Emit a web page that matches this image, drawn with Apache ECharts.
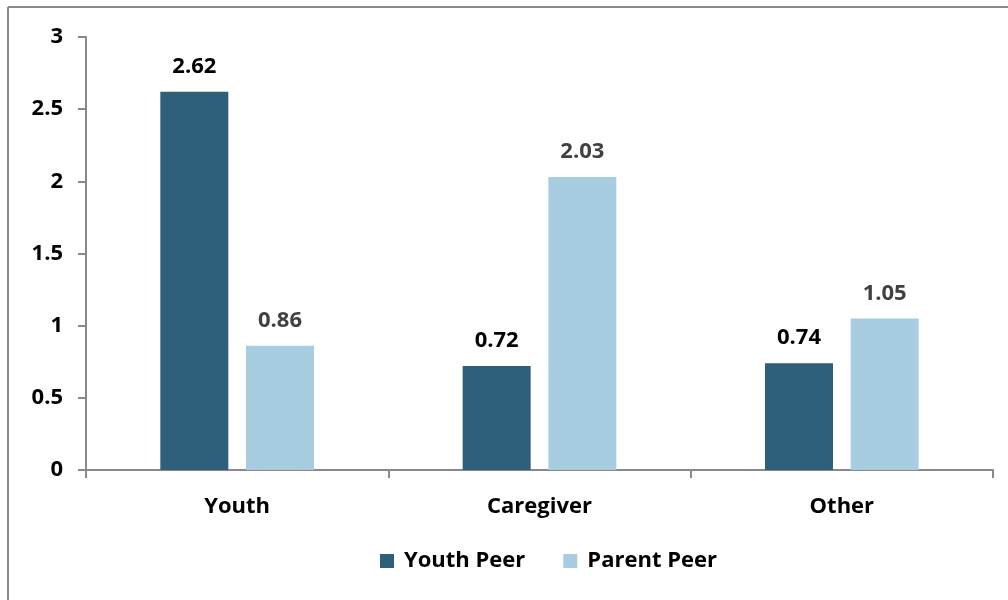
<!DOCTYPE html>
<html>
<head>
<meta charset="utf-8">
<script src="https://cdn.jsdelivr.net/npm/echarts@6/dist/echarts.min.js"></script>
<style>
  html, body { margin: 0; padding: 0; background: #fff; }
  #chart { width: 1008px; height: 600px; }
</style>
</head>
<body>
<div id="chart"></div>
<script>
// Categories and series values
const categories = ['Youth', 'Caregiver', 'Other'];
const youthPeer = [2.62, 0.72, 0.74];
const parentPeer = [0.86, 2.03, 1.05];
const seriesNames = ['Youth Peer', 'Parent Peer'];
const yTicks = [0, 0.5, 1, 1.5, 2, 2.5, 3];

const FONT = '"Open Sans", Lato, sans-serif';
const AXIS_GRAY = '#898989';
const FS = 22;

const chart = echarts.init(document.getElementById('chart'), null, { renderer: 'canvas' });

chart.setOption({
  animation: false,
  backgroundColor: '#ffffff',
  graphic: [
    // Frame around the chart area (top and left edges)
    { type: 'line', shape: { x1: 8, y1: 7, x2: 1008, y2: 7 }, style: { stroke: AXIS_GRAY, lineWidth: 2 } },
    { type: 'line', shape: { x1: 8, y1: 7, x2: 8, y2: 600 }, style: { stroke: AXIS_GRAY, lineWidth: 2 } }
  ],
  grid: { left: 86, right: 15, top: 37, bottom: 130 },
  legend: {
    data: seriesNames,
    bottom: 23,
    left: 375,
    itemWidth: 14,
    itemHeight: 14,
    itemGap: 38,
    icon: 'rect',
    textStyle: { fontFamily: FONT, fontWeight: 'bold', fontSize: FS, color: '#000', padding: [0, 0, 0, 5] }
  },
  xAxis: {
    type: 'category',
    data: categories,
    axisLine: { lineStyle: { color: AXIS_GRAY, width: 2 } },
    axisTick: { show: true, length: 8, lineStyle: { color: AXIS_GRAY, width: 2 } },
    axisLabel: { fontFamily: FONT, fontWeight: 'bold', fontSize: FS, color: '#000', margin: 26 }
  },
  yAxis: {
    type: 'value',
    min: yTicks[0],
    max: yTicks[yTicks.length - 1],
    interval: 0.5,
    splitLine: { show: false },
    axisLine: { show: true, lineStyle: { color: AXIS_GRAY, width: 2 } },
    axisTick: { show: true, length: 8, lineStyle: { color: AXIS_GRAY, width: 2 } },
    axisLabel: { fontFamily: FONT, fontWeight: 'bold', fontSize: FS, color: '#000', margin: 23 }
  },
  series: [
    {
      name: seriesNames[0],
      type: 'bar',
      data: youthPeer,
      barWidth: 68,
      barGap: '26%',
      itemStyle: { color: '#2E5F7B' },
      label: {
        show: true, position: 'top', distance: 14,
        fontFamily: FONT, fontWeight: 'bold', fontSize: FS, color: '#000',
        formatter: p => p.value.toFixed(2)
      }
    },
    {
      name: seriesNames[1],
      type: 'bar',
      data: parentPeer,
      barWidth: 68,
      itemStyle: { color: '#A9CDE0' },
      label: {
        show: true, position: 'top', distance: 14,
        fontFamily: FONT, fontWeight: 'bold', fontSize: FS, color: '#404040',
        formatter: p => p.value.toFixed(2)
      }
    }
  ]
});
</script>
</body>
</html>
